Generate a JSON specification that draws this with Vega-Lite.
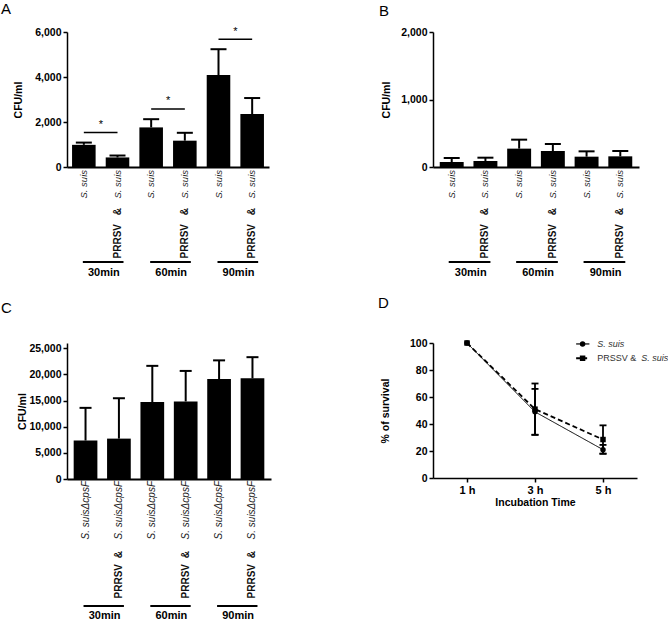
{
  "$schema": "https://vega.github.io/schema/vega-lite/v6.json",
  "padding": {"left": 1, "top": 1, "right": 0, "bottom": 0},
  "autosize": {"type": "pad"},
  "config": {
    "font": "Liberation Sans",
    "view": {"stroke": null},
    "axis": {"grid": false, "labelOverlap": false, "domainColor": "#000", "domainWidth": 1.5, "tickColor": "#000", "tickWidth": 1.5, "tickSize": 4, "labelColor": "#000", "labelFontWeight": "bold", "labelFontSize": 10.5, "labelPadding": 2, "titleColor": "#000", "titleFontWeight": "bold", "titleFontSize": 10.5, "labelFont": "Liberation Sans", "titleFont": "Liberation Sans"},
    "title": {"fontSize": 15, "fontWeight": "normal", "anchor": "start", "frame": "group", "color": "#000", "baseline": "alphabetic", "font": "Liberation Sans"}
  },
  "datasets": {
    "A": [
      {"cond": "S30", "inf": "S", "strain": "S. suis", "mean": 985, "upper": 1085},
      {"cond": "P30", "inf": "P", "strain": "S. suis", "mean": 425, "upper": 510},
      {"cond": "S60", "inf": "S", "strain": "S. suis", "mean": 1760, "upper": 2125},
      {"cond": "P60", "inf": "P", "strain": "S. suis", "mean": 1170, "upper": 1520},
      {"cond": "S90", "inf": "S", "strain": "S. suis", "mean": 4085, "upper": 5235},
      {"cond": "P90", "inf": "P", "strain": "S. suis", "mean": 2355, "upper": 3065}
    ],
    "B": [
      {"cond": "S30", "inf": "S", "strain": "S. suis", "mean": 74, "upper": 133},
      {"cond": "P30", "inf": "P", "strain": "S. suis", "mean": 89, "upper": 138},
      {"cond": "S60", "inf": "S", "strain": "S. suis", "mean": 272, "upper": 405},
      {"cond": "P60", "inf": "P", "strain": "S. suis", "mean": 237, "upper": 341},
      {"cond": "S90", "inf": "S", "strain": "S. suis", "mean": 153, "upper": 232},
      {"cond": "P90", "inf": "P", "strain": "S. suis", "mean": 158, "upper": 237}
    ],
    "C": [
      {"cond": "S30", "inf": "S", "strain": "S. suisΔcpsF", "mean": 7350, "upper": 13600},
      {"cond": "P30", "inf": "P", "strain": "S. suisΔcpsF", "mean": 7720, "upper": 15440},
      {"cond": "S60", "inf": "S", "strain": "S. suisΔcpsF", "mean": 14700, "upper": 21630},
      {"cond": "P60", "inf": "P", "strain": "S. suisΔcpsF", "mean": 14830, "upper": 20660},
      {"cond": "S90", "inf": "S", "strain": "S. suisΔcpsF", "mean": 19120, "upper": 22680},
      {"cond": "P90", "inf": "P", "strain": "S. suisΔcpsF", "mean": 19240, "upper": 23290}
    ],
    "G": [
      {"time": "30min", "first": "S30", "second": "P30"},
      {"time": "60min", "first": "S60", "second": "P60"},
      {"time": "90min", "first": "S90", "second": "P90"}
    ],
    "SIG": [
      {"first": "S30", "second": "P30", "sig": 1530, "star": "*"},
      {"first": "S60", "second": "P60", "sig": 2580, "star": "*"},
      {"first": "S90", "second": "P90", "sig": 5680, "star": "*"}
    ],
    "D": [
      {"t": 1, "series": "S", "mean": 100, "lo": 100, "hi": 100},
      {"t": 3, "series": "S", "mean": 49, "lo": 32, "hi": 66},
      {"t": 5, "series": "S", "mean": 21, "lo": 18, "hi": 24.5},
      {"t": 1, "series": "P", "mean": 100, "lo": 100, "hi": 100},
      {"t": 3, "series": "P", "mean": 51, "lo": 32, "hi": 70},
      {"t": 5, "series": "P", "mean": 28.5, "lo": 18, "hi": 39}
    ]
  },
  "columns": 2,
  "bounds": "flush",
  "align": "all",
  "spacing": {"row": 175, "column": 160},
  "concat": [
    {
      "width": 202, "height": 135,
      "title": {"text": "A", "dx": -66, "offset": 9},
      "resolve": {"axis": {"x": "independent", "y": "independent"}},
      "layer": [
        {"data": {"name": "A"}, "mark": {"type": "bar", "color": "#000"},
          "encoding": {
            "x": {"field": "cond", "type": "nominal", "scale": {"domain": ["S30", "P30", "S60", "P60", "S90", "P90"], "paddingInner": 0.3, "paddingOuter": 0.15}, "axis": {"labels": false, "ticks": false, "title": null, "domainWidth": 2}},
            "y": {"field": "mean", "type": "quantitative", "scale": {"domain": [0, 6000]}, "axis": {"values": [0, 2000, 4000, 6000], "format": ",d", "labelOverlap": false, "title": "CFU/ml", "titlePadding": 11}}
          }},
        {"data": {"name": "A"}, "mark": {"type": "rule", "strokeWidth": 2, "color": "#000"},
          "encoding": {"x": {"field": "cond", "type": "nominal", "axis": null}, "y": {"field": "mean", "type": "quantitative", "axis": null}, "y2": {"field": "upper"}}},
        {"data": {"name": "A"}, "mark": {"type": "rule", "strokeWidth": 2, "color": "#000", "xOffset": -8, "x2Offset": 8},
          "encoding": {"x": {"field": "cond", "type": "nominal", "axis": null}, "x2": {"field": "cond"}, "y": {"field": "upper", "type": "quantitative", "axis": null}}},
        {"data": {"name": "A"}, "mark": {"type": "text", "angle": 270, "align": "right", "baseline": "middle", "fontStyle": "italic", "fontSize": 9.5, "yOffset": 3, "color": "#222"},
          "encoding": {"x": {"field": "cond", "type": "nominal", "axis": null}, "y": {"datum": 0, "type": "quantitative", "axis": null}, "text": {"field": "strain"}}},
        {"data": {"name": "A"}, "transform": [{"filter": "datum.inf == 'P'"}], "mark": {"type": "text", "angle": 270, "align": "right", "baseline": "middle", "fontWeight": "bold", "fontSize": 10, "yOffset": 41, "color": "#111"},
          "encoding": {"x": {"field": "cond", "type": "nominal", "axis": null}, "y": {"datum": 0, "type": "quantitative", "axis": null}, "text": {"value": "&"}}},
        {"data": {"name": "A"}, "transform": [{"filter": "datum.inf == 'P'"}], "mark": {"type": "text", "angle": 270, "align": "right", "baseline": "middle", "fontWeight": "bold", "fontSize": 10, "yOffset": 57, "color": "#111"},
          "encoding": {"x": {"field": "cond", "type": "nominal", "axis": null}, "y": {"datum": 0, "type": "quantitative", "axis": null}, "text": {"value": "PRRSV"}}},
        {"data": {"name": "G"}, "mark": {"type": "rule", "strokeWidth": 2, "color": "#000", "yOffset": 95, "xOffset": -1, "x2Offset": 6},
          "encoding": {"x": {"field": "first", "type": "nominal", "axis": null}, "x2": {"field": "second"}, "y": {"datum": 0, "type": "quantitative", "axis": null}}},
        {"data": {"name": "G"}, "mark": {"type": "text", "fontWeight": "bold", "fontSize": 11, "xOffset": 20, "yOffset": 106, "baseline": "middle", "align": "center", "color": "#000"},
          "encoding": {"x": {"field": "first", "type": "nominal", "axis": null}, "y": {"datum": 0, "type": "quantitative", "axis": null}, "text": {"field": "time"}}},
        {"data": {"name": "SIG"}, "mark": {"type": "rule", "strokeWidth": 1.5, "color": "#000"},
          "encoding": {"x": {"field": "first", "type": "nominal", "axis": null}, "x2": {"field": "second"}, "y": {"field": "sig", "type": "quantitative", "axis": null}}},
        {"data": {"name": "SIG"}, "mark": {"type": "text", "fontSize": 11, "xOffset": 17, "yOffset": -4.5, "baseline": "alphabetic", "align": "center", "color": "#000"},
          "encoding": {"x": {"field": "first", "type": "nominal", "axis": null}, "y": {"field": "sig", "type": "quantitative", "axis": null}, "text": {"field": "star"}}}
      ]
    },
    {
      "width": 206, "height": 135,
      "title": {"text": "B", "dx": -54, "offset": 8.5},
      "resolve": {"axis": {"x": "independent", "y": "independent"}},
      "layer": [
        {"data": {"name": "B"}, "mark": {"type": "bar", "color": "#000"},
          "encoding": {
            "x": {"field": "cond", "type": "nominal", "scale": {"domain": ["S30", "P30", "S60", "P60", "S90", "P90"], "paddingInner": 0.29, "paddingOuter": 0.2}, "axis": {"labels": false, "ticks": false, "title": null, "domainWidth": 2}},
            "y": {"field": "mean", "type": "quantitative", "scale": {"domain": [0, 2000]}, "axis": {"values": [0, 1000, 2000], "format": ",d", "labelOverlap": false, "title": "CFU/ml", "titlePadding": 9}}
          }},
        {"data": {"name": "B"}, "mark": {"type": "rule", "strokeWidth": 2, "color": "#000"},
          "encoding": {"x": {"field": "cond", "type": "nominal", "axis": null}, "y": {"field": "mean", "type": "quantitative", "axis": null}, "y2": {"field": "upper"}}},
        {"data": {"name": "B"}, "mark": {"type": "rule", "strokeWidth": 2, "color": "#000", "xOffset": -8, "x2Offset": 8},
          "encoding": {"x": {"field": "cond", "type": "nominal", "axis": null}, "x2": {"field": "cond"}, "y": {"field": "upper", "type": "quantitative", "axis": null}}},
        {"data": {"name": "B"}, "mark": {"type": "text", "angle": 270, "align": "right", "baseline": "middle", "fontStyle": "italic", "fontSize": 9.5, "yOffset": 3, "color": "#222"},
          "encoding": {"x": {"field": "cond", "type": "nominal", "axis": null}, "y": {"datum": 0, "type": "quantitative", "axis": null}, "text": {"field": "strain"}}},
        {"data": {"name": "B"}, "transform": [{"filter": "datum.inf == 'P'"}], "mark": {"type": "text", "angle": 270, "align": "right", "baseline": "middle", "fontWeight": "bold", "fontSize": 10, "yOffset": 41, "color": "#111"},
          "encoding": {"x": {"field": "cond", "type": "nominal", "axis": null}, "y": {"datum": 0, "type": "quantitative", "axis": null}, "text": {"value": "&"}}},
        {"data": {"name": "B"}, "transform": [{"filter": "datum.inf == 'P'"}], "mark": {"type": "text", "angle": 270, "align": "right", "baseline": "middle", "fontWeight": "bold", "fontSize": 10, "yOffset": 57, "color": "#111"},
          "encoding": {"x": {"field": "cond", "type": "nominal", "axis": null}, "y": {"datum": 0, "type": "quantitative", "axis": null}, "text": {"value": "PRRSV"}}},
        {"data": {"name": "G"}, "mark": {"type": "rule", "strokeWidth": 2, "color": "#000", "yOffset": 95, "xOffset": -3, "x2Offset": 5},
          "encoding": {"x": {"field": "first", "type": "nominal", "axis": null}, "x2": {"field": "second"}, "y": {"datum": 0, "type": "quantitative", "axis": null}}},
        {"data": {"name": "G"}, "mark": {"type": "text", "fontWeight": "bold", "fontSize": 11, "xOffset": 19, "yOffset": 106, "baseline": "middle", "align": "center", "color": "#000"},
          "encoding": {"x": {"field": "first", "type": "nominal", "axis": null}, "y": {"datum": 0, "type": "quantitative", "axis": null}, "text": {"field": "time"}}}
      ]
    },
    {
      "width": 204, "height": 136,
      "title": {"text": "C", "dx": -66, "offset": 26.7},
      "resolve": {"axis": {"x": "independent", "y": "independent"}},
      "layer": [
        {"data": {"name": "C"}, "mark": {"type": "bar", "color": "#000"},
          "encoding": {
            "x": {"field": "cond", "type": "nominal", "scale": {"domain": ["S30", "P30", "S60", "P60", "S90", "P90"], "paddingInner": 0.29, "paddingOuter": 0.2}, "axis": {"labels": false, "ticks": false, "title": null, "domainWidth": 2}},
            "y": {"field": "mean", "type": "quantitative", "scale": {"domain": [0, 25000]}, "axis": {"values": [0, 5000, 10000, 15000, 20000, 25000], "format": ",d", "labelOverlap": false, "title": "CFU/ml", "titlePadding": 1}}
          }},
        {"data": {"name": "C"}, "mark": {"type": "rule", "strokeWidth": 2, "color": "#000"},
          "encoding": {"x": {"field": "cond", "type": "nominal", "axis": null}, "y": {"field": "mean", "type": "quantitative", "axis": null}, "y2": {"field": "upper"}}},
        {"data": {"name": "C"}, "mark": {"type": "rule", "strokeWidth": 2, "color": "#000", "xOffset": -6, "x2Offset": 6},
          "encoding": {"x": {"field": "cond", "type": "nominal", "axis": null}, "x2": {"field": "cond"}, "y": {"field": "upper", "type": "quantitative", "axis": null}}},
        {"data": {"name": "C"}, "mark": {"type": "text", "angle": 270, "align": "right", "baseline": "middle", "fontStyle": "italic", "fontSize": 10, "yOffset": 2, "color": "#222"},
          "encoding": {"x": {"field": "cond", "type": "nominal", "axis": null}, "y": {"datum": 0, "type": "quantitative", "axis": null}, "text": {"field": "strain"}}},
        {"data": {"name": "C"}, "transform": [{"filter": "datum.inf == 'P'"}], "mark": {"type": "text", "angle": 270, "align": "right", "baseline": "middle", "fontWeight": "bold", "fontSize": 10, "yOffset": 72, "color": "#111"},
          "encoding": {"x": {"field": "cond", "type": "nominal", "axis": null}, "y": {"datum": 0, "type": "quantitative", "axis": null}, "text": {"value": "&"}}},
        {"data": {"name": "C"}, "transform": [{"filter": "datum.inf == 'P'"}], "mark": {"type": "text", "angle": 270, "align": "right", "baseline": "middle", "fontWeight": "bold", "fontSize": 10, "yOffset": 85, "color": "#111"},
          "encoding": {"x": {"field": "cond", "type": "nominal", "axis": null}, "y": {"datum": 0, "type": "quantitative", "axis": null}, "text": {"value": "PRRSV"}}},
        {"data": {"name": "G"}, "mark": {"type": "rule", "strokeWidth": 2, "color": "#000", "yOffset": 127, "xOffset": -2, "x2Offset": 5},
          "encoding": {"x": {"field": "first", "type": "nominal", "axis": null}, "x2": {"field": "second"}, "y": {"datum": 0, "type": "quantitative", "axis": null}}},
        {"data": {"name": "G"}, "mark": {"type": "text", "fontWeight": "bold", "fontSize": 11, "xOffset": 19, "yOffset": 137, "baseline": "middle", "align": "center", "color": "#000"},
          "encoding": {"x": {"field": "first", "type": "nominal", "axis": null}, "y": {"datum": 0, "type": "quantitative", "axis": null}, "text": {"field": "time"}}}
      ]
    },
    {
      "width": 204, "height": 135,
      "title": {"text": "D", "dx": -55, "offset": 26.7},
      "resolve": {"axis": {"x": "independent", "y": "independent"}},
      "layer": [
        {"data": {"name": "D"}, "mark": {"type": "line", "color": "#000"},
          "encoding": {
            "x": {"field": "t", "type": "quantitative", "scale": {"domain": [0, 6]}, "axis": {"values": [1, 3, 5], "labelExpr": "datum.value + ' h'", "labelOverlap": false, "title": "Incubation Time", "titlePadding": 2, "labelFontSize": 11}},
            "y": {"field": "mean", "type": "quantitative", "scale": {"domain": [0, 100]}, "axis": {"values": [0, 20, 40, 60, 80, 100], "labelOverlap": false, "title": "% of survival", "titlePadding": 19}},
            "strokeDash": {"field": "series", "type": "nominal", "scale": {"domain": ["S", "P"], "range": [[1, 0], [5, 3]]}, "legend": null},
            "strokeWidth": {"field": "series", "type": "nominal", "scale": {"domain": ["S", "P"], "range": [1, 1.8]}, "legend": null}
          }},
        {"data": {"name": "D"}, "transform": [{"filter": "datum.t > 1"}], "mark": {"type": "rule", "strokeWidth": 1.8, "color": "#000"},
          "encoding": {"x": {"field": "t", "type": "quantitative", "axis": null}, "y": {"field": "lo", "type": "quantitative", "axis": null}, "y2": {"field": "hi"}}},
        {"data": {"name": "D"}, "transform": [{"filter": "datum.t > 1"}], "mark": {"type": "rule", "strokeWidth": 1.8, "color": "#000", "xOffset": -3.5, "x2Offset": 3.5},
          "encoding": {"x": {"field": "t", "type": "quantitative", "axis": null}, "x2": {"field": "t"}, "y": {"field": "hi", "type": "quantitative", "axis": null}}},
        {"data": {"name": "D"}, "transform": [{"filter": "datum.t > 1"}], "mark": {"type": "rule", "strokeWidth": 1.8, "color": "#000", "xOffset": -3.5, "x2Offset": 3.5},
          "encoding": {"x": {"field": "t", "type": "quantitative", "axis": null}, "x2": {"field": "t"}, "y": {"field": "lo", "type": "quantitative", "axis": null}}},
        {"data": {"name": "D"}, "mark": {"type": "point", "filled": true, "color": "#000", "opacity": 1, "size": 30},
          "encoding": {"x": {"field": "t", "type": "quantitative", "axis": null}, "y": {"field": "mean", "type": "quantitative", "axis": null}, "shape": {"field": "series", "type": "nominal", "scale": {"domain": ["S", "P"], "range": ["circle", "square"]}, "legend": null}}},
        {"data": {"values": [{}]}, "mark": {"type": "rule", "strokeWidth": 1.2, "color": "#000"},
          "encoding": {"x": {"datum": 4.21, "type": "quantitative", "axis": null}, "x2": {"datum": 4.6}, "y": {"datum": 99.3, "type": "quantitative", "axis": null}}},
        {"data": {"values": [{}]}, "mark": {"type": "rule", "strokeWidth": 1.8, "color": "#000", "strokeDash": [4, 3]},
          "encoding": {"x": {"datum": 4.21, "type": "quantitative", "axis": null}, "x2": {"datum": 4.6}, "y": {"datum": 88.7, "type": "quantitative", "axis": null}}},
        {"data": {"values": [{}]}, "mark": {"type": "point", "shape": "circle", "filled": true, "color": "#000", "opacity": 1, "size": 30},
          "encoding": {"x": {"datum": 4.4, "type": "quantitative", "axis": null}, "y": {"datum": 99.3, "type": "quantitative", "axis": null}}},
        {"data": {"values": [{}]}, "mark": {"type": "point", "shape": "square", "filled": true, "color": "#000", "opacity": 1, "size": 30},
          "encoding": {"x": {"datum": 4.4, "type": "quantitative", "axis": null}, "y": {"datum": 88.7, "type": "quantitative", "axis": null}}},
        {"data": {"values": [{}]}, "mark": {"type": "text", "fontStyle": "italic", "fontSize": 9, "align": "left", "baseline": "middle", "color": "#333"},
          "encoding": {"x": {"datum": 4.83, "type": "quantitative", "axis": null}, "y": {"datum": 99.3, "type": "quantitative", "axis": null}, "text": {"value": "S. suis"}}},
        {"data": {"values": [{}]}, "mark": {"type": "text", "fontSize": 9, "align": "left", "baseline": "middle", "color": "#333"},
          "encoding": {"x": {"datum": 4.83, "type": "quantitative", "axis": null}, "y": {"datum": 88.7, "type": "quantitative", "axis": null}, "text": {"value": "PRSSV &"}}},
        {"data": {"values": [{}]}, "mark": {"type": "text", "fontStyle": "italic", "fontSize": 9, "align": "left", "baseline": "middle", "color": "#333", "xOffset": 44},
          "encoding": {"x": {"datum": 4.83, "type": "quantitative", "axis": null}, "y": {"datum": 88.7, "type": "quantitative", "axis": null}, "text": {"value": "S. suis"}}}
      ]
    }
  ]
}
